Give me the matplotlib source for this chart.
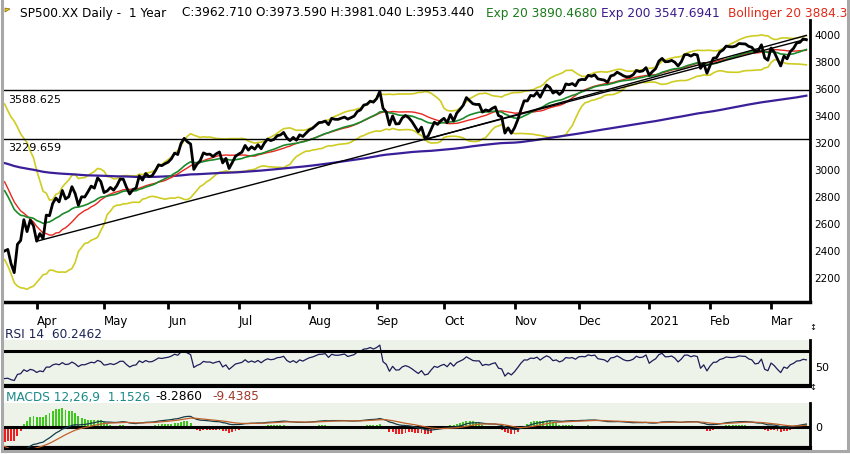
import matplotlib
matplotlib.use("Agg")
import matplotlib.pyplot as plt
from matplotlib.lines import Line2D
from matplotlib.patches import Polygon
import numpy as np
import pandas as pd

# SP500 daily closes 19 Feb 2020 - 16 Mar 2021 (the first 20 sessions only warm up the indicators)
closes = [
    3386.15, 3373.23, 3337.75, 3225.89, 3128.21, 3116.39, 2978.76, 2954.22,
    3090.23, 3003.37, 3130.12, 3023.94, 2972.37, 2746.56, 2882.23, 2741.38,
    2480.64, 2711.02, 2386.13, 2529.19,
    # shown from 18 Mar 2020
    2398.10, 2409.39, 2304.92, 2237.40, 2447.33, 2475.56, 2630.07, 2541.47, 2626.65, 2584.59,
    # Apr
    2470.50, 2526.90, 2488.65, 2663.68, 2659.41, 2749.98, 2789.82, 2761.63, 2846.06, 2783.36,
    2799.55, 2874.56, 2823.16, 2736.56, 2799.31, 2797.80, 2836.74, 2878.48, 2863.39, 2939.51,
    2912.43,
    # May
    2830.71, 2842.74, 2868.44, 2848.42, 2881.19, 2929.80, 2930.32, 2870.12, 2820.00, 2852.50,
    2863.70, 2953.91, 2922.94, 2971.61, 2948.51, 2955.45, 2991.77, 3036.13, 3029.73, 3044.31,
    # Jun
    3055.73, 3080.82, 3122.87, 3112.35, 3193.93, 3232.39, 3207.18, 3190.14, 3002.10, 3041.31,
    3066.59, 3124.74, 3113.49, 3115.34, 3097.74, 3117.86, 3131.29, 3050.33, 3083.76, 3009.05,
    3053.24, 3100.29,
    # Jul
    3115.86, 3130.01, 3179.72, 3145.32, 3169.94, 3152.05, 3185.04, 3155.22, 3197.52, 3226.56,
    3215.57, 3224.73, 3251.84, 3257.30, 3276.02, 3235.66, 3215.63, 3239.41, 3218.44, 3258.44,
    3246.22, 3271.12,
    # Aug
    3294.61, 3306.51, 3327.77, 3349.16, 3351.28, 3360.47, 3333.69, 3380.35, 3373.43, 3372.85,
    3381.99, 3389.78, 3374.85, 3385.51, 3397.16, 3431.28, 3443.62, 3478.73, 3484.55, 3508.01,
    3500.31,
    # Sep
    3526.65, 3580.84, 3455.06, 3426.96, 3331.84, 3398.96, 3339.19, 3340.97, 3383.54, 3401.20,
    3385.49, 3357.01, 3319.47, 3281.06, 3315.57, 3236.92, 3246.59, 3298.46, 3351.60, 3335.47,
    3363.00,
    # Oct
    3380.80, 3348.42, 3408.60, 3360.97, 3419.44, 3446.83, 3477.14, 3534.22, 3511.93, 3488.67,
    3483.34, 3483.81, 3426.92, 3443.12, 3435.56, 3453.49, 3465.39, 3400.97, 3390.68, 3271.03,
    3310.11, 3269.96,
    # Nov
    3310.24, 3369.16, 3443.44, 3510.45, 3509.44, 3550.50, 3545.53, 3572.66, 3537.01, 3585.15,
    3626.91, 3609.53, 3567.79, 3581.87, 3557.54, 3577.59, 3635.41, 3629.65, 3638.35, 3621.63,
    # Dec
    3662.45, 3669.01, 3666.72, 3699.12, 3691.96, 3702.25, 3672.82, 3668.10, 3663.46, 3647.49,
    3694.62, 3701.17, 3722.48, 3709.41, 3694.92, 3687.26, 3690.01, 3703.06, 3735.36, 3727.04,
    3732.04, 3756.07,
    # Jan 2021
    3700.65, 3726.86, 3748.14, 3803.79, 3824.68, 3799.61, 3801.19, 3809.84, 3795.54, 3768.25,
    3798.91, 3851.85, 3853.07, 3841.47, 3855.36, 3849.62, 3750.77, 3787.38, 3714.24,
    # Feb
    3773.86, 3826.31, 3830.17, 3871.74, 3886.83, 3915.59, 3911.23, 3909.88, 3916.38, 3934.83,
    3932.59, 3931.33, 3913.97, 3906.71, 3876.50, 3881.37, 3925.43, 3829.34, 3811.15,
    # Mar
    3901.82, 3870.29, 3819.72, 3768.47, 3841.94, 3821.35, 3875.44, 3898.81, 3939.34, 3943.34,
    3968.94, 3962.71,
]
holidays = ["2020-04-10", "2020-05-25", "2020-07-03", "2020-09-07", "2020-11-26",
            "2020-12-25", "2021-01-01", "2021-01-18", "2021-02-15"]
first_shown = "2020-03-18"
ema200_seed = 3080.0  # Exp 200 on 19 Feb 2020

levels = [3588.625, 3229.659]
trend_lines = [("2020-04-01", 2470.0, "2021-03-16", 3967.0),
               ("2020-09-23", 3222.0, "2021-03-16", 3995.0)]
price_ticks = [2200, 2400, 2600, 2800, 3000, 3200, 3400, 3600, 3800, 4000]
month_labels = ["Apr", "May", "Jun", "Jul", "Aug", "Sep", "Oct", "Nov", "Dec", "2021", "Feb", "Mar"]

dates = pd.bdate_range("2020-02-19", "2021-03-16")
dates = dates[~dates.isin(pd.to_datetime(holidays))]
s = pd.Series(closes, index=dates)

# indicators
ema20 = s.ewm(span=20, adjust=False).mean()
sma20 = s.rolling(20).mean()
sd20 = s.rolling(20).std(ddof=0)
bb_up = sma20 + 2 * sd20
bb_lo = sma20 - 2 * sd20
ema200 = pd.concat([pd.Series([ema200_seed]), pd.Series(closes)]).ewm(
    alpha=2 / 201, adjust=False).mean().iloc[1:]
ema200.index = dates

d = s.diff()
ag = d.clip(lower=0).ewm(alpha=1 / 14, adjust=False).mean()
al = (-d.clip(upper=0)).ewm(alpha=1 / 14, adjust=False).mean()
rsi = 100 - 100 / (1 + ag / al)

macd = s.ewm(span=12, adjust=False).mean() - s.ewm(span=26, adjust=False).mean()
signal = macd.ewm(span=9, adjust=False).mean()
hist = macd - signal

m = dates >= pd.Timestamp(first_shown)
sd = dates[m]
x = np.arange(m.sum())
months = sd.to_period("M")
month_idx = [i for i in range(1, len(sd)) if months[i] != months[i - 1]]

W, H = 850, 454
fig = plt.figure(figsize=(8.5, 4.54), dpi=100)
plt.rcParams["font.family"] = ["DejaVu Sans"]


def box(x0, y0, x1, y1):
    return [x0 / W, 1 - y1 / H, (x1 - x0) / W, (y1 - y0) / H]


px_per_day = 3.207
x_first = 4.6
xl = ((4 - x_first) / px_per_day, (810 - x_first) / px_per_day)

# ---- price panel
ax = fig.add_axes(box(4, 20, 810, 302))
ax.plot(x, bb_up[m], color="#cfcc22", lw=1.2)
ax.plot(x, bb_lo[m], color="#cfcc22", lw=1.2)
ax.plot(x, ema200[m], color="#3b1f9a", lw=1.6)
ax.plot(x, sma20[m], color="#e8281e", lw=1.0)
ax.plot(x, ema20[m], color="#1a8a2a", lw=1.2)
for lv in levels:
    ax.axhline(lv, color="black", lw=1.0)
    ax.annotate(f"{lv:.3f}", xy=(0, lv), xycoords=ax.get_yaxis_transform(),
                xytext=(3, -7), textcoords="offset points", va="center", ha="left",
                fontsize=8)
for d0, v0, d1, v1 in trend_lines:
    i0, i1 = sd.get_loc(pd.Timestamp(d0)), sd.get_loc(pd.Timestamp(d1))
    ax.plot([i0, i1], [v0, v1], color="black", lw=1.0)
ax.plot(x, s[m], color="black", lw=2.0)
ax.set_xlim(*xl)
ax.set_ylim(2020, 4109)
ax.yaxis.tick_right()
ax.set_yticks(price_ticks)
ax.tick_params(axis="y", length=0, pad=3, labelsize=7.5)
ax.set_xticks(month_idx)
ax.set_xticklabels(month_labels, ha="left")
ax.tick_params(axis="x", direction="out", length=5, width=2, pad=4.5, labelsize=8.5)
for k in ["top", "left"]:
    ax.spines[k].set_visible(False)
ax.spines["right"].set_linewidth(2)
ax.spines["bottom"].set_linewidth(2.5)

# ---- RSI panel
ar = fig.add_axes(box(4, 340, 810, 386), facecolor="#eef3ea")
ar.plot(x, rsi[m], color="#1c1c58", lw=0.9)
ar.axhline(74.6, color="black", lw=2.2)
ar.set_xlim(*xl)
ar.set_ylim(20, 90.8)
ar.yaxis.tick_right()
ar.set_yticks([50])
ar.set_xticks([])
ar.tick_params(axis="y", length=0, pad=4, labelsize=8)
for k in ["top", "left"]:
    ar.spines[k].set_visible(False)
ar.spines["right"].set_linewidth(2)
ar.spines["bottom"].set_linewidth(3)

# ---- MACD panel
am = fig.add_axes(box(4, 403, 810, 448), facecolor="#eef3ea")
colors = np.where(hist[m] >= 0, "#3ec81e", "#f01e1e")
am.bar(x, hist[m], width=0.6, color=colors)
am.set_ylim(-70, 80)
am.set_xlim(*xl)
al2 = am.twinx()
al2.axhline(0, color="black", lw=2.2)
al2.plot(x, macd[m], color="#143c48", lw=0.9)
al2.plot(x, signal[m], color="#c0602a", lw=0.9)
al2.set_ylim(-180, 205)
al2.set_xlim(*xl)
al2.axis("off")
am.yaxis.tick_right()
am.yaxis.set_label_position("right")
am.set_yticks([0])
am.set_xticks([])
am.tick_params(axis="y", length=0, pad=4, labelsize=8, labelleft=False, labelright=True)
for k in ["top", "left"]:
    am.spines[k].set_visible(False)
am.spines["right"].set_linewidth(2)
am.spines["bottom"].set_linewidth(3)

# ---- header texts
fs = 8.7
ty = 1 - 13 / H
fig.text(20 / W, ty, "SP500.XX Daily -  1 Year", fontsize=fs, va="center")
fig.text(182 / W, ty, "C:3962.710 O:3973.590 H:3981.040 L:3953.440", fontsize=fs, va="center")
fig.text(486 / W, ty, "Exp 20 3890.4680", fontsize=fs, va="center", color="#1a7a1a")
fig.text(601 / W, ty, "Exp 200 3547.6941", fontsize=fs, va="center", color="#3a1a8a")
fig.text(728 / W, ty, "Bollinger 20 3884.3", fontsize=fs, va="center", color="#e02a1a")
fig.patches.append(Polygon([[5 / W, 1 - 8 / H], [10 / W, 1 - 9 / H], [5 / W, 1 - 12 / H]],
                           closed=True, transform=fig.transFigure, facecolor="#e8d020",
                           edgecolor="#806000", lw=0.5))

fig.text(5 / W, 1 - 335 / H, "RSI 14  60.2462", fontsize=fs, va="center", color="#1c2454")
fig.text(6 / W, 1 - 397 / H, "MACDS 12,26,9  1.1526", fontsize=fs, va="center", color="#1a8a8a")
fig.text(155 / W, 1 - 397 / H, "-8.2860", fontsize=fs, va="center", color="black")
fig.text(212 / W, 1 - 397 / H, "-9.4385", fontsize=fs, va="center", color="#a0382a")
for yy in (327, 388):
    fig.text(813 / W, 1 - yy / H, "\u2195", fontsize=6, ha="center", va="center")

# window frame
for xs, ys in [([1.5, 1.5], [0, 451]), ([1.5, 848], [451, 451]), ([848, 848], [0, 451])]:
    fig.lines.append(Line2D([v / W for v in xs], [1 - v / H for v in ys],
                            transform=fig.transFigure, color="#a8a8a8", lw=2.2))

fig.savefig("out.png", dpi=100)
